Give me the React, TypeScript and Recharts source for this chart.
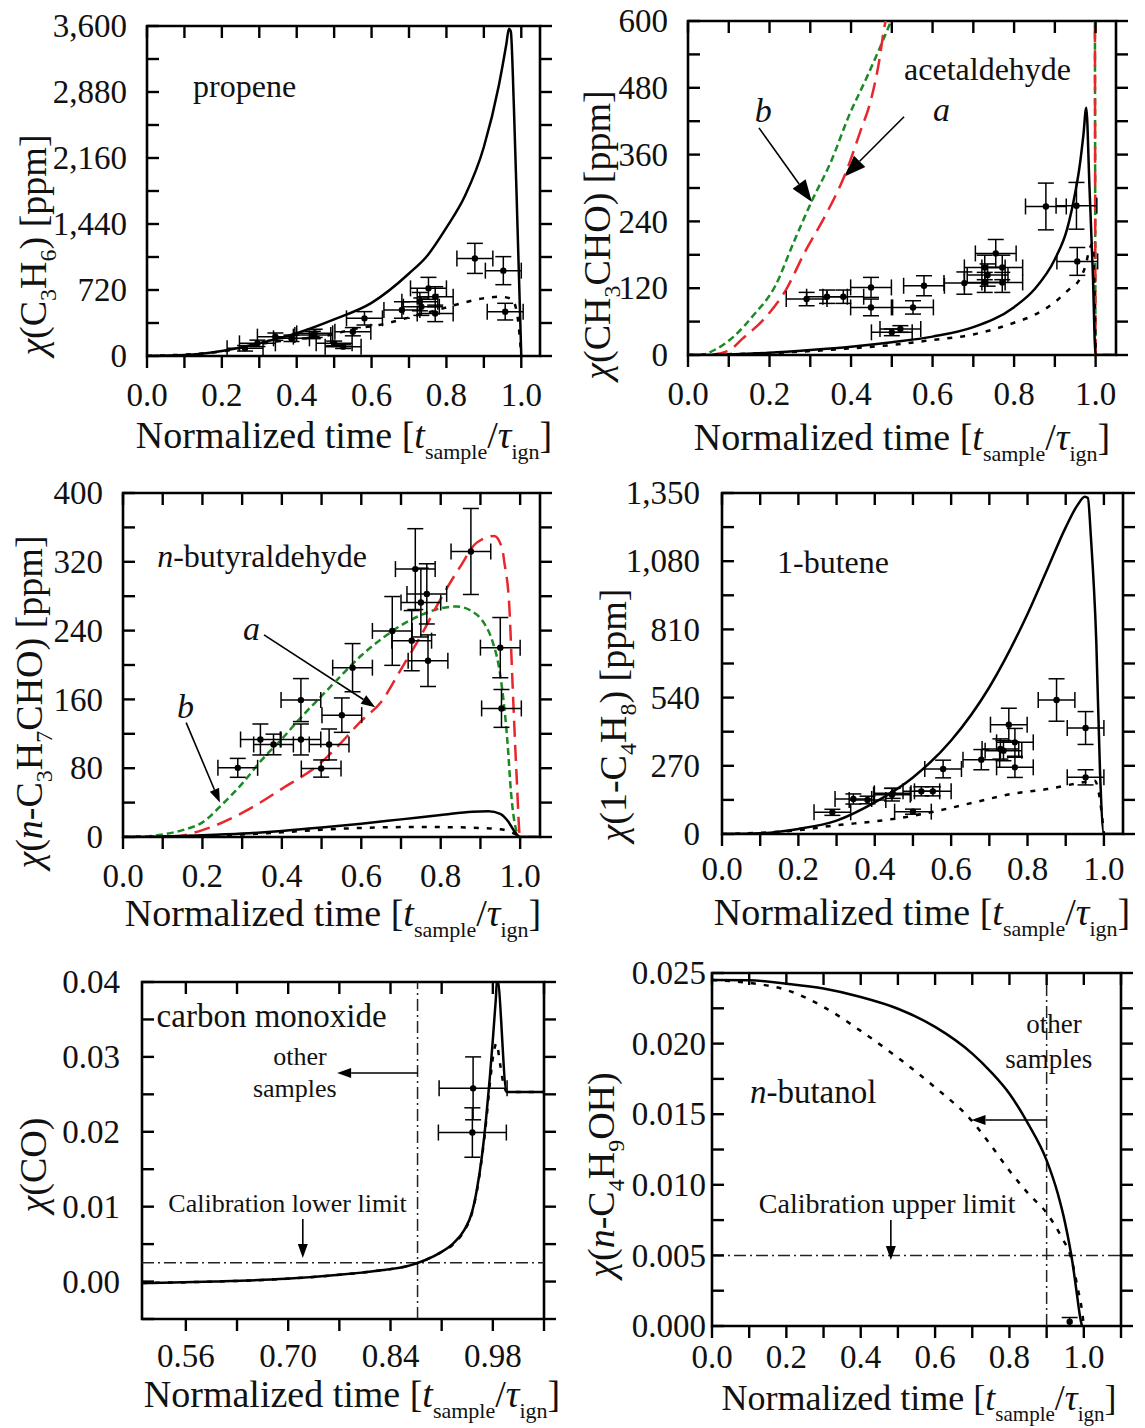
import React from "react";
import {
  ComposedChart,
  Line,
  Scatter,
  ErrorBar,
  XAxis,
  YAxis,
  ReferenceLine,
  ReferenceArea,
  ReferenceDot,
} from "recharts";

const FONT = '"Liberation Serif", "Times New Roman", serif';
const GREEN = "#1c8a24";
const RED = "#e8262b";
const TICK = 12;
const DOTTED = "5 8";
const SHORT = "7 4";
const LONG = "16 8";

type Pt = [number, number];
type Sample = [number, number, number, number]; // x, y, x error, y error

// ---------- propene
const propeneSim: Pt[] = [
  [0, 0], [0.1, 10], [0.2, 55], [0.3, 140], [0.4, 250], [0.5, 400], [0.6, 580],
  [0.7, 900], [0.75, 1100], [0.8, 1400], [0.85, 1750], [0.9, 2280], [0.94, 2950],
  [0.96, 3400], [0.967, 3570], [0.972, 3540], [0.98, 2750], [0.99, 1400], [1.0, 0],
];
const propeneSimB: Pt[] = [
  [0, 0], [0.2, 50], [0.3, 130], [0.4, 185], [0.467, 211], [0.56, 300], [0.62, 338],
  [0.7, 420], [0.8, 530], [0.84, 575], [0.9, 630], [0.943, 647], [0.975, 620],
  [0.99, 430], [0.995, 247], [1.0, 0],
];
const propeneSamples: Sample[] = [
  [0.262, 84, 0.048, 30], [0.295, 138, 0.048, 35], [0.343, 211, 0.048, 40],
  [0.386, 193, 0.048, 35], [0.443, 229, 0.048, 40], [0.448, 247, 0.048, 45],
  [0.5, 138, 0.048, 25], [0.524, 102, 0.048, 20], [0.55, 265, 0.048, 45],
  [0.581, 411, 0.048, 73], [0.681, 502, 0.048, 90], [0.729, 593, 0.048, 100],
  [0.733, 538, 0.048, 95], [0.752, 738, 0.048, 120], [0.77, 647, 0.048, 109],
  [0.77, 465, 0.048, 90], [0.876, 1065, 0.048, 164], [0.952, 931, 0.048, 153],
  [0.957, 484, 0.048, 91],
];

// ---------- acetaldehyde
const acetSim: Pt[] = [
  [0, 0], [0.1, 1], [0.2, 4], [0.3, 9], [0.4, 15], [0.5, 23], [0.6, 33], [0.7, 50],
  [0.8, 86], [0.85, 118], [0.9, 172], [0.93, 226], [0.95, 292], [0.96, 335],
  [0.97, 395], [0.977, 444], [0.985, 300], [0.993, 150], [1.0, 0], [1.05, 0],
];
const acetSimB: Pt[] = [
  [0, 0], [0.3, 7], [0.4, 12], [0.5, 18], [0.6, 27], [0.7, 37], [0.8, 58], [0.85, 72],
  [0.9, 95], [0.935, 118], [0.96, 135], [0.975, 160], [0.985, 190], [0.992, 200],
  [0.996, 150], [1.0, 0],
];
const acetModelA: Pt[] = [
  [0, 0], [0.05, 0], [0.1, 8], [0.133, 29], [0.187, 65], [0.241, 118], [0.286, 184],
  [0.341, 256], [0.384, 322], [0.422, 400], [0.449, 459], [0.471, 537], [0.48, 582],
  [0.5, 640], [0.7, 1000], [0.997, 1000], [1.0, 0], [1.05, 0],
];
const acetModelB: Pt[] = [
  [0, 0], [0.03, 0], [0.07, 11], [0.115, 35], [0.16, 71], [0.214, 124], [0.259, 202],
  [0.304, 277], [0.35, 346], [0.395, 430], [0.44, 501], [0.476, 561], [0.498, 600],
  [0.52, 640], [0.7, 1000], [0.997, 1000], [1.0, 0], [1.05, 0],
];
const acetSamples: Sample[] = [
  [0.291, 100.5, 0.05, 12], [0.341, 104.7, 0.05, 12], [0.381, 104.7, 0.05, 12],
  [0.449, 121.4, 0.05, 18], [0.449, 85.5, 0.05, 15], [0.5, 40.7, 0.05, 6],
  [0.521, 46.7, 0.05, 6], [0.552, 85.5, 0.05, 12], [0.579, 124.4, 0.05, 18],
  [0.678, 129.2, 0.05, 20], [0.728, 157.3, 0.05, 22], [0.735, 143.6, 0.05, 20],
  [0.728, 130.4, 0.05, 18], [0.755, 182.5, 0.05, 25], [0.771, 157.3, 0.05, 22],
  [0.771, 130.4, 0.05, 18], [0.878, 266.8, 0.05, 42], [0.953, 268.0, 0.05, 42],
  [0.955, 168.1, 0.05, 25],
];

// ---------- n-butyraldehyde
const butyrSim: Pt[] = [
  [0, 0], [0.1, 0.5], [0.2, 2], [0.3, 4], [0.4, 7], [0.5, 11], [0.6, 15.5], [0.7, 20.5],
  [0.8, 25.5], [0.88, 29.5], [0.92, 30], [0.95, 27], [0.97, 18], [0.985, 7], [1.0, 0],
  [1.05, 0],
];
const butyrSimB: Pt[] = [
  [0, 0], [0.2, 1.5], [0.3, 3], [0.4, 5.5], [0.5, 8.5], [0.6, 10.5], [0.7, 11.5],
  [0.8, 11.5], [0.9, 10.5], [0.95, 9], [0.98, 5], [1.0, 0],
];
const butyrModelA: Pt[] = [
  [0, 0], [0.1, 0], [0.13, 0.5], [0.2, 8], [0.3, 28], [0.4, 56], [0.5, 87], [0.55, 110],
  [0.6, 135], [0.65, 157], [0.7, 195], [0.75, 234], [0.8, 277], [0.85, 315], [0.89, 342],
  [0.935, 350], [0.955, 335], [0.96, 320], [0.973, 266], [0.98, 188], [0.991, 72],
  [1.0, 0], [1.05, 0],
];
const butyrModelB: Pt[] = [
  [0, 0], [0.05, 0.5], [0.1, 3], [0.15, 8], [0.2, 17], [0.25, 38], [0.3, 62], [0.35, 90],
  [0.4, 114], [0.45, 140], [0.5, 164], [0.55, 188], [0.6, 211], [0.65, 230], [0.7, 246],
  [0.75, 258], [0.8, 266], [0.84, 268], [0.88, 262], [0.91, 248], [0.93, 228],
  [0.95, 188], [0.968, 111], [0.977, 52], [0.989, 10], [1.0, 0], [1.05, 0],
];
const butyrSamples: Sample[] = [
  [0.289, 80.4, 0.05, 11], [0.346, 113.4, 0.05, 18], [0.379, 107.6, 0.05, 12],
  [0.448, 159.2, 0.05, 25], [0.448, 113.4, 0.05, 18], [0.499, 79.6, 0.05, 10],
  [0.519, 107.6, 0.05, 18], [0.551, 141.7, 0.05, 20], [0.578, 196.9, 0.05, 28],
  [0.678, 239.6, 0.05, 40], [0.727, 228.3, 0.05, 35], [0.736, 311.5, 0.05, 47],
  [0.75, 272.6, 0.05, 40], [0.765, 282.7, 0.05, 35], [0.768, 205.0, 0.05, 30],
  [0.876, 332.0, 0.05, 50], [0.95, 220.2, 0.05, 35], [0.953, 149.5, 0.05, 22],
];

// ---------- 1-butene
const buteneSim: Pt[] = [
  [0, 0], [0.1, 3], [0.2, 20], [0.3, 53], [0.4, 125], [0.5, 224], [0.6, 370], [0.7, 581],
  [0.8, 871], [0.85, 1042], [0.9, 1214], [0.93, 1300], [0.95, 1335], [0.958, 1330],
  [0.966, 1174], [0.98, 765], [0.99, 238], [1.0, 0], [1.05, 0],
];
const buteneSimB: Pt[] = [
  [0, 0], [0.2, 15], [0.3, 35], [0.4, 50], [0.5, 72], [0.565, 92], [0.66, 125],
  [0.756, 158], [0.852, 178], [0.947, 205], [0.976, 211], [0.99, 132], [1.0, 0],
];
const buteneSamples: Sample[] = [
  [0.289, 85.8, 0.048, 12], [0.344, 138.6, 0.048, 20], [0.381, 134.6, 0.048, 15],
  [0.445, 155.7, 0.048, 25], [0.447, 161, 0.048, 20], [0.5, 88.4, 0.048, 10],
  [0.522, 168.9, 0.048, 18], [0.552, 168.9, 0.048, 18], [0.579, 257.3, 0.048, 35],
  [0.679, 294.3, 0.048, 40], [0.729, 336.5, 0.048, 40], [0.737, 330, 0.048, 40],
  [0.751, 432.9, 0.048, 65], [0.767, 362.9, 0.048, 55], [0.767, 263.9, 0.048, 40],
  [0.876, 530.5, 0.048, 84], [0.952, 419.6, 0.048, 65], [0.952, 224.3, 0.048, 30],
];

// ---------- carbon monoxide
const coSim: Pt[] = [
  [0.5, -0.0002], [0.6, 0], [0.697, 0.00036], [0.77, 0.0009], [0.819, 0.0014],
  [0.868, 0.0022], [0.907, 0.0038], [0.926, 0.0051], [0.941, 0.0069], [0.951, 0.0091],
  [0.958, 0.0122], [0.965, 0.0167], [0.971, 0.022], [0.976, 0.0274], [0.98, 0.0323],
  [0.984, 0.0376], [0.986, 0.0405], [0.999, 0.0253], [1.05, 0.0253],
];
const coSimB: Pt[] = [
  [0.5, -0.0002], [0.6, 0], [0.697, 0.00036], [0.77, 0.0009], [0.819, 0.0014],
  [0.868, 0.0022], [0.907, 0.0038], [0.926, 0.005], [0.941, 0.0068], [0.951, 0.009],
  [0.958, 0.012], [0.965, 0.0165], [0.971, 0.0215], [0.976, 0.0265], [0.981, 0.0305],
  [0.985, 0.0318], [0.99, 0.029], [0.995, 0.0262], [1.0, 0.0253], [1.05, 0.0253],
];
const coSamples: Sample[] = [
  [0.953, 0.0258, 0.0465, 0.0042],
  [0.952, 0.0199, 0.0465, 0.0033],
];

// ---------- n-butanol
const butanolSim: Pt[] = [
  [0, 0.0245], [0.1, 0.02448], [0.2, 0.02424], [0.3, 0.0239], [0.4, 0.0233],
  [0.5, 0.02247], [0.6, 0.02118], [0.7, 0.01929], [0.75, 0.018], [0.8, 0.01645],
  [0.85, 0.01433], [0.9, 0.01173], [0.93, 0.00937], [0.95, 0.00725], [0.97, 0.00441],
  [0.98, 0.00253], [0.99, 0.00064], [0.995, 0],
];
const butanolSimB: Pt[] = [
  [0, 0.0245], [0.1, 0.0243], [0.2, 0.0238], [0.3, 0.0226], [0.4, 0.0209],
  [0.5, 0.019], [0.6, 0.0169], [0.7, 0.0145], [0.75, 0.0128], [0.8, 0.011],
  [0.85, 0.0094], [0.9, 0.008], [0.94, 0.0063], [0.965, 0.0049], [0.985, 0.0025],
  [0.995, 0.0011], [1.0, 0],
];
const butanolSamples: Sample[] = [[0.962, 0.0003, 0, 0.0003]];

// ---------- ticks
const xTicksUnit = [0, 0.1, 0.2, 0.3, 0.4, 0.5, 0.6, 0.7, 0.8, 0.9, 1.0];
const xMajorUnit = [0, 0.2, 0.4, 0.6, 0.8, 1.0];
const xTicksCO = [0.56, 0.63, 0.7, 0.77, 0.84, 0.91, 0.98, 1.05];
const xMajorCO = [0.56, 0.7, 0.84, 0.98];
const xTicksButanol = [0, 0.1, 0.2, 0.3, 0.4, 0.5, 0.6, 0.7, 0.8, 0.9, 1.0, 1.1];
const yTicksPropene = [0, 360, 720, 1080, 1440, 1800, 2160, 2520, 2880, 3240, 3600];
const yMajorPropene = [0, 720, 1440, 2160, 2880, 3600];
const yTicksAcet = [0, 60, 120, 180, 240, 300, 360, 420, 480, 540, 600];
const yMajorAcet = [0, 120, 240, 360, 480, 600];
const yTicksButyr = [0, 40, 80, 120, 160, 200, 240, 280, 320, 360, 400];
const yMajorButyr = [0, 80, 160, 240, 320, 400];
const yTicksButene = [0, 135, 270, 405, 540, 675, 810, 945, 1080, 1215, 1350];
const yMajorButene = [0, 270, 540, 810, 1080, 1350];
const yTicksCO = [-0.005, 0, 0.005, 0.01, 0.015, 0.02, 0.025, 0.03, 0.035, 0.04];
const yMajorCO = [0, 0.01, 0.02, 0.03, 0.04];
const yTicksButanol = [0, 0.0025, 0.005, 0.0075, 0.01, 0.0125, 0.015, 0.0175, 0.02, 0.0225, 0.025];
const yMajorButanol = [0, 0.005, 0.01, 0.015, 0.02, 0.025];

const xy = (pts: Pt[]) => pts.map(([x, y]) => ({ x, y }));
const samp = (s: Sample[]) => s.map(([x, y, ex, ey]) => ({ x, y, ex, ey }));

type LineSpec = { data: Pt[]; color: string; dash?: string; width?: number };

type PanelProps = {
  box: [number, number, number, number];
  xDomain: [number, number];
  yDomain: [number, number];
  xTicks: number[];
  xMajor: number[];
  xDigits: number;
  xLabelDy?: number;
  yTicks: number[];
  yMajor: number[];
  yFmt: (v: number) => string;
  yGap: number;
  lines: LineSpec[];
  samples?: Sample[];
  xErr?: boolean;
  extras?: React.ReactNode[];
};

const L = 140;
const T = 20;
const R = 30;
const B = 110;

const isIn = (list: number[], v: number, span: number) =>
  list.some((m) => Math.abs(m - v) < span * 1e-6);

const dotShape = (p: any) => <circle cx={p.cx} cy={p.cy} r={3.2} fill="#000" />;

function ArrowShape(p: any) {
  const { x1, y1, x2, y2, head, hw } = p;
  const dx = x2 - x1;
  const dy = y2 - y1;
  const len = Math.hypot(dx, dy) || 1;
  const ux = dx / len;
  const uy = dy / len;
  const bx = x2 - ux * head;
  const by = y2 - uy * head;
  return (
    <g>
      <line x1={x1} y1={y1} x2={bx} y2={by} stroke="#000" strokeWidth={1.6} />
      <polygon
        points={`${x2},${y2} ${bx - uy * hw},${by + ux * hw} ${bx + uy * hw},${by - ux * hw}`}
        fill="#000"
      />
    </g>
  );
}

const arrow = (key: string, a: Pt, b: Pt, head = 14, hw = 5) => (
  <ReferenceLine
    key={key}
    segment={[{ x: a[0], y: a[1] }, { x: b[0], y: b[1] }]}
    ifOverflow="visible"
    shape={(p: any) => <ArrowShape {...p} head={head} hw={hw} />}
  />
);

const note = (
  key: string,
  x: number,
  y: number,
  body: React.ReactNode,
  size = 32,
  anchor: "start" | "middle" = "start",
) => (
  <ReferenceDot
    key={key}
    x={x}
    y={y}
    r={1}
    fill="none"
    stroke="none"
    ifOverflow="visible"
    label={{
      content: (p: any) => {
        const vb = p.viewBox || { x: 0, y: 0, width: 0, height: 0 };
        return (
          <text
            x={vb.x + vb.width / 2}
            y={vb.y + vb.height / 2}
            textAnchor={anchor}
            fontSize={size}
            fontFamily={FONT}
            fill="#111"
          >
            {body}
          </text>
        );
      },
    }}
  />
);

const dashDot = (key: string, axis: "x" | "y", v: number) =>
  axis === "x" ? (
    <ReferenceLine key={key} x={v} stroke="#222" strokeWidth={1.5} strokeDasharray="12 4 2 4" />
  ) : (
    <ReferenceLine key={key} y={v} stroke="#222" strokeWidth={1.5} strokeDasharray="12 4 2 4" />
  );

function Panel(props: PanelProps) {
  const { box, xDomain, yDomain, xTicks, xMajor, xDigits, yTicks, yMajor, yFmt, yGap } = props;
  const [left, top, right, bottom] = box;
  const plotW = right - left;
  const plotH = bottom - top;
  const xSpan = xDomain[1] - xDomain[0];
  const ySpan = yDomain[1] - yDomain[0];
  const labelDy = props.xLabelDy ?? 50;

  const xTick = (p: any) => {
    const v = p.payload.value;
    return (
      <g>
        <line x1={p.x} x2={p.x} y1={p.y} y2={p.y + TICK} stroke="#000" strokeWidth={2.4} />
        <line x1={p.x} x2={p.x} y1={p.y - plotH} y2={p.y - plotH + TICK} stroke="#000" strokeWidth={2.4} />
        {isIn(xMajor, v, xSpan) && (
          <text x={p.x} y={p.y + labelDy} textAnchor="middle" fontSize={33} fontFamily={FONT} fill="#111">
            {v.toFixed(xDigits)}
          </text>
        )}
      </g>
    );
  };

  const yTick = (p: any) => {
    const v = p.payload.value;
    return (
      <g>
        <line x1={p.x} x2={p.x + TICK} y1={p.y} y2={p.y} stroke="#000" strokeWidth={2.4} />
        <line x1={p.x + plotW} x2={p.x + plotW + TICK} y1={p.y} y2={p.y} stroke="#000" strokeWidth={2.4} />
        {isIn(yMajor, v, ySpan) && (
          <text x={p.x - yGap} y={p.y} dy="0.34em" textAnchor="end" fontSize={33} fontFamily={FONT} fill="#111">
            {yFmt(v)}
          </text>
        )}
      </g>
    );
  };

  return (
    <div style={{ position: "absolute", left: left - L, top: top - T }}>
      <ComposedChart
        width={L + plotW + R}
        height={T + plotH + B}
        margin={{ top: T, right: R, bottom: 0, left: 0 }}
      >
        <XAxis
          type="number"
          dataKey="x"
          domain={xDomain}
          allowDataOverflow
          ticks={xTicks}
          interval={0}
          tick={xTick}
          tickLine={false}
          tickSize={0}
          tickMargin={0}
          axisLine={false}
          height={B}
        />
        <YAxis
          type="number"
          domain={yDomain}
          allowDataOverflow
          ticks={yTicks}
          interval={0}
          tick={yTick}
          tickLine={false}
          tickSize={0}
          tickMargin={0}
          axisLine={false}
          width={L}
        />
        <ReferenceArea
          x1={xDomain[0]}
          x2={xDomain[1]}
          y1={yDomain[0]}
          y2={yDomain[1]}
          fill="none"
          stroke="#000"
          strokeWidth={2.6}
          ifOverflow="visible"
        />
        {props.extras}
        {props.lines.map((l, i) => (
          <Line
            key={i}
            data={xy(l.data)}
            dataKey="y"
            type="monotone"
            stroke={l.color}
            strokeWidth={l.width ?? 2.5}
            strokeDasharray={l.dash}
            dot={false}
            activeDot={false}
            isAnimationActive={false}
          />
        ))}
        {props.samples && (
          <Scatter data={samp(props.samples)} dataKey="y" shape={dotShape} isAnimationActive={false}>
            <ErrorBar dataKey="ey" direction="y" width={8} stroke="#000" strokeWidth={1.5} isAnimationActive={false} />
            {props.xErr !== false && (
              <ErrorBar dataKey="ex" direction="x" width={8} stroke="#000" strokeWidth={1.5} isAnimationActive={false} />
            )}
          </Scatter>
        )}
      </ComposedChart>
    </div>
  );
}

type Seg = [string, "n" | "i" | "s"];
const rich = (segs: Seg[], subSize: number, shift: number) => {
  let down = false;
  return segs.map(([t, k], i) => {
    const dy = k === "s" ? (down ? 0 : shift) : down ? -shift : 0;
    down = k === "s";
    return (
      <tspan
        key={i}
        dy={dy}
        fontSize={k === "s" ? subSize : undefined}
        fontStyle={k === "i" ? "italic" : undefined}
      >
        {t}
      </tspan>
    );
  });
};

const timeTitle: Seg[] = [
  ["Normalized time [", "n"],
  ["t", "i"],
  ["sample", "s"],
  ["/", "n"],
  ["τ", "i"],
  ["ign", "s"],
  ["]", "n"],
];

const XTitle = ({ cx, y, size = 38 }: { cx: number; y: number; size?: number }) => (
  <text x={cx} y={y} textAnchor="middle" fontSize={size} fontFamily={FONT} fill="#111">
    {rich(timeTitle, Math.round(size * 0.58), 11)}
  </text>
);

const YTitle = ({ x, cy, segs }: { x: number; cy: number; segs: Seg[] }) => (
  <text
    x={x}
    y={cy}
    transform={`rotate(-90, ${x}, ${cy})`}
    textAnchor="middle"
    fontSize={38}
    fontFamily={FONT}
    fill="#111"
  >
    {rich(segs, 24, 10)}
  </text>
);

const thousands = (v: number) => v.toLocaleString("en-US");

export default function App() {
  return (
    <div
      style={{
        position: "absolute",
        left: 0,
        top: 0,
        width: 1145,
        height: 1428,
        overflow: "hidden",
        background: "#fff",
      }}
    >
      {/* propene */}
      <Panel
        box={[147, 26, 540, 356]}
        xDomain={[0, 1.05]}
        yDomain={[0, 3600]}
        xTicks={xTicksUnit}
        xMajor={xMajorUnit}
        xDigits={1}
        yTicks={yTicksPropene}
        yMajor={yMajorPropene}
        yFmt={thousands}
        yGap={20}
        lines={[
          { data: propeneSim, color: "#000" },
          { data: propeneSimB, color: "#000", dash: DOTTED },
        ]}
        samples={propeneSamples}
        extras={[note("t", 0.123, 2825, "propene")]}
      />
      {/* acetaldehyde */}
      <Panel
        box={[688, 21, 1116, 355]}
        xDomain={[0, 1.05]}
        yDomain={[0, 600]}
        xTicks={xTicksUnit}
        xMajor={xMajorUnit}
        xDigits={1}
        yTicks={yTicksAcet}
        yMajor={yMajorAcet}
        yFmt={thousands}
        yGap={20}
        lines={[
          { data: acetModelB, color: GREEN, dash: SHORT },
          { data: acetModelA, color: RED, dash: LONG },
          { data: acetSim, color: "#000" },
          { data: acetSimB, color: "#000", dash: DOTTED },
        ]}
        samples={acetSamples}
        extras={[
          note("t", 0.53, 494, "acetaldehyde"),
          note("b", 0.164, 419, <tspan fontStyle="italic">b</tspan>, 34),
          note("a", 0.601, 420, <tspan fontStyle="italic">a</tspan>, 34),
          arrow("ab", [0.174, 408], [0.304, 275], 22, 8),
          arrow("aa", [0.53, 428], [0.383, 320], 22, 8),
        ]}
      />
      {/* n-butyraldehyde */}
      <Panel
        box={[123, 493, 540, 837]}
        xDomain={[0, 1.05]}
        yDomain={[0, 400]}
        xTicks={xTicksUnit}
        xMajor={xMajorUnit}
        xDigits={1}
        yTicks={yTicksButyr}
        yMajor={yMajorButyr}
        yFmt={thousands}
        yGap={20}
        lines={[
          { data: butyrModelB, color: GREEN, dash: SHORT },
          { data: butyrModelA, color: RED, dash: LONG },
          { data: butyrSim, color: "#000" },
          { data: butyrSimB, color: "#000", dash: DOTTED },
        ]}
        samples={butyrSamples}
        extras={[
          note("t", 0.086, 314, (
            <>
              <tspan fontStyle="italic">n</tspan>
              <tspan>-butyraldehyde</tspan>
            </>
          )),
          note("a", 0.302, 229, <tspan fontStyle="italic">a</tspan>, 34),
          note("b", 0.136, 138, <tspan fontStyle="italic">b</tspan>, 34),
          arrow("aa", [0.355, 235], [0.635, 151]),
          arrow("ab", [0.159, 133], [0.244, 40]),
        ]}
      />
      {/* 1-butene */}
      <Panel
        box={[722, 493, 1123, 834]}
        xDomain={[0, 1.05]}
        yDomain={[0, 1350]}
        xTicks={xTicksUnit}
        xMajor={xMajorUnit}
        xDigits={1}
        xLabelDy={46}
        yTicks={yTicksButene}
        yMajor={yMajorButene}
        yFmt={thousands}
        yGap={22}
        lines={[
          { data: buteneSim, color: "#000" },
          { data: buteneSimB, color: "#000", dash: DOTTED },
        ]}
        samples={buteneSamples}
        extras={[note("t", 0.144, 1033, "1-butene")]}
      />
      {/* carbon monoxide */}
      <Panel
        box={[142, 982, 544, 1319]}
        xDomain={[0.5, 1.05]}
        yDomain={[-0.005, 0.04]}
        xTicks={xTicksCO}
        xMajor={xMajorCO}
        xDigits={2}
        xLabelDy={48}
        yTicks={yTicksCO}
        yMajor={yMajorCO}
        yFmt={(v) => v.toFixed(2)}
        yGap={22}
        lines={[
          { data: coSim, color: "#000" },
          { data: coSimB, color: "#000", dash: DOTTED },
        ]}
        samples={coSamples}
        extras={[
          dashDot("vx", "x", 0.877),
          dashDot("hy", "y", 0.0025),
          note("t", 0.52, 0.034, "carbon monoxide", 33),
          note("o1", 0.716, 0.0289, "other", 26, "middle"),
          note("o2", 0.709, 0.02464, "samples", 26, "middle"),
          arrow("ao", [0.877, 0.02785], [0.767, 0.02785]),
          note("c", 0.536, 0.0093, "Calibration lower limit", 26),
          arrow("ac", [0.72, 0.00835], [0.72, 0.00315]),
        ]}
      />
      {/* n-butanol */}
      <Panel
        box={[712, 973, 1121, 1326]}
        xDomain={[0, 1.1]}
        yDomain={[0, 0.025]}
        xTicks={xTicksButanol}
        xMajor={xMajorUnit}
        xDigits={1}
        xLabelDy={42}
        yTicks={yTicksButanol}
        yMajor={yMajorButanol}
        yFmt={(v) => v.toFixed(3)}
        yGap={6}
        lines={[
          { data: butanolSim, color: "#000" },
          { data: butanolSimB, color: "#000", dash: DOTTED },
        ]}
        samples={butanolSamples}
        xErr={false}
        extras={[
          dashDot("vx", "x", 0.9),
          dashDot("hy", "y", 0.005),
          note("t", 0.102, 0.0158, (
            <>
              <tspan fontStyle="italic">n</tspan>
              <tspan>-butanol</tspan>
            </>
          ), 33),
          note("o1", 0.92, 0.02075, "other", 27, "middle"),
          note("o2", 0.906, 0.01827, "samples", 27, "middle"),
          arrow("ao", [0.9, 0.01459], [0.698, 0.01459]),
          note("c", 0.126, 0.008, "Calibration upper limit", 28),
          arrow("ac", [0.481, 0.0075], [0.481, 0.00467]),
        ]}
      />

      <svg
        width={1145}
        height={1428}
        style={{ position: "absolute", left: 0, top: 0, pointerEvents: "none" }}
      >
        <XTitle cx={344} y={448} />
        <XTitle cx={902} y={450} />
        <XTitle cx={333} y={926} />
        <XTitle cx={922} y={925} />
        <XTitle cx={352} y={1407} />
        <XTitle cx={919} y={1410} size={36} />
        <YTitle x={46} cy={245} segs={[["χ", "i"], ["(C", "n"], ["3", "s"], ["H", "n"], ["6", "s"], [") [ppm]", "n"]]} />
        <YTitle x={610} cy={235} segs={[["χ", "i"], ["(CH", "n"], ["3", "s"], ["CHO) [ppm]", "n"]]} />
        <YTitle
          x={42}
          cy={702}
          segs={[["χ", "i"], ["(", "n"], ["n", "i"], ["-C", "n"], ["3", "s"], ["H", "n"], ["7", "s"], ["CHO) [ppm]", "n"]]}
        />
        <YTitle x={626} cy={715} segs={[["χ", "i"], ["(1-C", "n"], ["4", "s"], ["H", "n"], ["8", "s"], [") [ppm]", "n"]]} />
        <YTitle x={46} cy={1165} segs={[["χ", "i"], ["(CO)", "n"]]} />
        <YTitle
          x={614}
          cy={1175}
          segs={[["χ", "i"], ["(", "n"], ["n", "i"], ["-C", "n"], ["4", "s"], ["H", "n"], ["9", "s"], ["OH)", "n"]]}
        />
      </svg>
    </div>
  );
}
